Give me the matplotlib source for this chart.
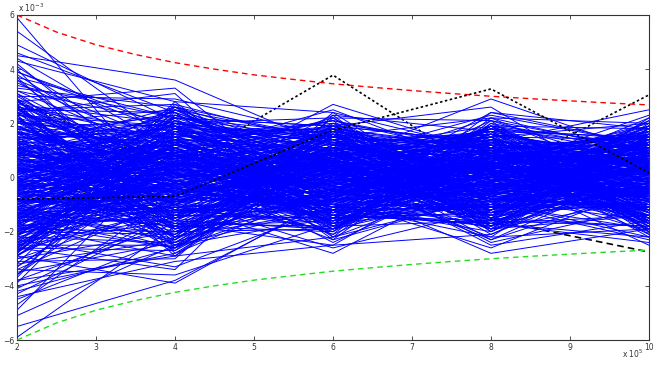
import matplotlib
matplotlib.use("Agg")
import matplotlib.pyplot as plt
import numpy as np

# x in units of 1e5, y in units of 1e-3
x_pts = [2, 4, 6, 8, 10]

# blue runs: value at each x_pts
blue_runs = [
    [5.9, -0.9, 0.4, -0.3, 0.6], [5.4, 1.2, -0.5, 0.8, -0.2], [4.9, 2.1, 0.9, -0.6, 0.3],
    [4.5, 3.6, 1.1, 0.2, -0.8], [4.3, 2.8, 2.4, 1.0, 0.5], [4.1, 0.3, -1.2, 0.7, 1.1],
    [3.9, 1.8, 0.6, 2.9, 0.9], [3.7, -1.5, 0.2, -0.4, -0.6], [3.4, 2.2, 1.9, 1.3, 2.5],
    [3.2, 0.8, -0.3, -1.1, 0.4], [3.0, 2.9, 1.5, 0.5, 1.6], [2.8, -0.4, 2.7, 0.9, -0.3],
    [2.6, 1.4, -0.8, 2.4, 1.2], [2.5, 0.1, 0.5, -0.2, 2.2], [2.3, 1.9, 1.3, 0.1, -1.4],
    [2.2, -1.1, -0.1, 1.6, 0.7], [2.1, 0.6, 2.2, -0.9, 0.0], [2.0, 2.5, 0.0, 0.6, 1.8],
    [1.9, -0.7, 1.0, 1.9, -0.5], [1.8, 1.1, -1.6, 0.3, 0.8], [1.7, 0.4, 0.7, -1.4, 1.4],
    [1.6, 1.6, 1.8, 1.1, -0.9], [1.5, -1.9, 0.3, 0.0, 0.2], [1.5, 0.9, -0.6, 2.1, 1.0],
    [1.4, 2.0, 1.4, -0.7, -1.1], [1.3, -0.2, -1.0, 0.8, 0.6], [1.3, 1.3, 0.8, 1.5, 2.0],
    [1.2, 0.0, 2.0, -0.1, -0.4], [1.1, -1.3, -0.4, 0.4, 1.3], [1.1, 1.7, 0.1, -1.7, 0.1],
    [1.0, 0.5, 1.6, 0.9, -1.7], [1.0, -0.6, -0.9, 1.2, 0.9], [0.9, 2.3, 0.4, -0.5, 0.3],
    [0.9, 0.2, -1.9, 0.6, -0.7], [0.8, -1.0, 1.2, 1.7, 1.5], [0.8, 1.0, -0.2, -0.3, -0.2],
    [0.7, -0.3, 0.6, 0.2, 0.7], [0.7, 1.5, -1.3, -1.0, 1.9], [0.6, -1.6, 0.9, 1.0, -0.1],
    [0.6, 0.7, 1.7, -0.8, -1.0], [0.5, -0.8, -0.7, 0.5, 1.1], [0.5, 1.2, 0.2, 1.4, -0.6],
    [0.4, -2.2, -0.5, -0.6, 0.4], [0.4, 0.3, 1.1, 0.7, -1.3], [0.3, 1.4, -1.5, -1.3, 0.8],
    [0.3, -0.5, 0.0, 1.8, 0.2], [0.2, 0.9, 2.5, 0.3, -0.8], [0.2, -1.2, -0.8, -0.2, 1.6],
    [0.1, 1.9, 0.5, -1.5, -0.3], [0.1, -0.1, -1.1, 0.8, 0.5], [0.0, 0.6, 1.4, 0.0, -1.5],
    [0.0, -1.4, 0.3, 2.2, 0.9], [-0.1, 1.1, -0.6, -0.9, 0.0], [-0.1, -0.9, 0.8, 0.4, -0.9],
    [-0.2, 0.4, -1.7, 1.1, 1.2], [-0.2, 2.1, 0.1, -0.4, -0.4], [-0.3, -1.7, 1.0, -1.2, 0.6],
    [-0.3, 0.0, -0.3, 0.6, 1.7], [-0.4, 1.3, 1.9, 0.2, -1.2], [-0.4, -0.4, -1.2, -1.8, 0.3],
    [-0.5, 0.8, 0.4, 1.3, -0.1], [-0.5, -2.0, -0.1, 0.1, 1.0], [-0.6, 0.2, 1.5, -0.6, -0.7],
    [-0.6, -1.1, -0.9, 0.9, 0.4], [-0.7, 1.6, 0.6, -0.1, -1.6], [-0.7, -0.2, -2.1, 0.5, 0.7],
    [-0.8, 0.5, 0.9, -1.0, 1.3], [-0.8, -1.5, 0.2, 1.6, -0.2], [-0.9, 1.0, -0.7, 0.0, 0.1],
    [-0.9, -0.6, 1.3, -0.5, -1.1], [-1.0, -2.4, -0.4, 0.7, 0.9], [-1.0, 0.7, -1.4, -1.6, -0.5],
    [-1.1, -0.3, 0.7, 1.0, 1.5], [-1.1, 1.8, -0.2, 0.3, -0.9], [-1.2, -1.0, 1.1, -0.8, 0.2],
    [-1.2, 0.1, -1.8, 1.2, -1.4], [-1.3, -1.8, 0.0, -0.3, 0.6], [-1.3, 0.9, 2.1, 0.8, -0.3],
    [-1.4, -0.7, -1.0, -2.0, 1.1], [-1.4, 1.2, 0.5, 0.4, 0.0], [-1.5, -2.6, -0.6, 0.9, -1.8],
    [-1.5, 0.3, 1.6, -1.1, 0.5], [-1.6, -1.2, -1.3, 0.2, 1.4], [-1.6, 1.5, 0.3, 1.5, -0.6],
    [-1.7, -0.1, -2.3, -0.7, -1.2], [-1.8, -2.9, 0.8, 0.1, 0.8], [-1.8, 0.6, -0.5, -1.4, -0.4],
    [-1.9, -1.4, 1.2, 1.1, 1.0], [-2.0, 0.2, -1.6, -0.2, -2.0], [-2.0, -2.1, 0.1, -2.3, 0.3],
    [-2.1, 1.0, -0.9, 0.5, -0.8], [-2.2, -0.8, -2.6, -1.2, 1.2], [-2.3, -3.3, -1.1, 0.6, -1.0],
    [-2.4, 0.0, 0.9, -0.9, -2.2], [-2.5, -1.6, -1.9, 1.4, 0.1], [-2.6, -2.7, 0.4, -1.9, -1.4],
    [-2.7, 0.8, -1.4, -0.1, 0.7], [-2.9, -3.9, -0.7, -1.3, -0.5], [-3.0, -1.0, -2.8, 0.2, -2.5],
    [-3.2, -2.3, 0.6, -2.4, -1.1], [-3.4, -3.6, -1.7, -0.6, 0.4], [-3.6, 0.5, -0.3, -2.8, -1.9],
    [-3.8, -2.9, -2.2, 0.0, -0.7], [-4.1, -1.3, -1.0, -1.7, -2.4], [-4.4, -3.1, -2.5, -2.1, 0.2],
    [-4.7, -0.6, 0.2, -0.8, -1.6], [-5.1, -2.5, -1.5, -1.0, -2.3], [-5.5, -3.8, -0.8, -2.6, -0.3],
    [-5.9, -1.8, -2.0, 0.8, -1.3],
    [0.35, -0.25, 0.45, -0.15, 0.25], [-0.45, 0.55, -0.35, 0.25, -0.45], [1.25, 0.45, 0.15, -0.55, 0.65],
    [-1.15, -0.35, 0.55, 0.35, -0.15], [0.65, 0.15, -0.65, 0.75, 0.05], [-0.25, -0.75, 0.35, -0.35, 0.85],
    [1.85, -0.15, 0.95, 0.45, -0.65], [-1.65, 0.35, -0.45, -0.65, 0.35], [0.15, 1.05, 0.25, 0.15, -0.25],
    [-0.85, -0.45, -0.15, 0.95, 0.55], [2.35, 0.65, -0.25, -0.25, 0.15], [-2.15, 0.25, 0.75, 0.05, -0.35],
    [0.95, -0.95, 0.05, 0.65, 1.05], [-0.05, 0.85, -0.85, -0.45, -0.75], [1.45, -0.55, 0.65, 1.25, 0.45],
    [-1.35, 1.25, -0.05, -0.75, 0.25], [0.45, 0.05, 1.25, 0.25, -0.05], [-0.55, -1.25, -0.55, 0.55, 0.75],
    [2.65, 0.35, 0.45, -0.05, -0.55], [-2.45, -0.15, 0.15, 0.35, 0.15], [0.75, 0.75, -0.35, -0.85, 0.35],
    [-0.65, 0.45, 0.85, 0.85, -0.45], [1.05, -0.35, -0.75, 0.15, 0.95], [-1.45, -0.65, 0.45, -0.25, -0.25],
    [0.25, 1.35, -0.15, 0.45, 0.55], [-0.35, -0.05, 1.05, -0.55, -0.85], [1.65, 0.25, 0.25, 0.75, 0.25],
    [-1.75, 0.95, -0.65, 0.05, 0.45], [0.55, -0.85, 0.65, -0.35, -0.15], [-0.15, 0.15, -0.25, 1.05, 0.65],
    [2.05, -1.05, 0.35, 0.25, -0.35], [-1.95, 0.55, -0.95, -0.15, 0.05], [0.85, 0.25, 0.05, 0.55, -0.65],
    [-0.95, -0.25, 0.65, -0.65, 0.35], [1.35, 0.65, -0.45, 0.35, 0.15], [-1.25, 0.05, 0.35, 0.15, -0.55],
    [0.05, -0.55, -0.05, -0.45, 0.45], [3.1, 0.15, 0.55, 0.65, -0.05], [-2.85, -0.35, -0.35, 0.35, 0.25],
    [3.6, -0.65, 0.15, -0.15, 0.55], [-3.3, 0.45, 0.25, -0.35, -0.45],
    [2.7, -1.9, 1.2, 0.4, -1.1], [-2.6, 1.4, -0.3, 1.6, 0.8], [1.3, 2.4, -1.5, -0.9, 1.3],
    [-0.4, -2.3, 1.7, -1.6, -0.2], [2.2, 0.7, 0.8, 1.7, -1.6], [-1.8, -1.2, -1.6, 0.6, 1.5],
    [0.8, 1.9, 1.3, -1.4, 0.6], [-2.9, 0.3, 0.1, 1.2, -1.3], [1.7, -2.5, -1.1, -0.2, 1.7],
    [-0.9, 2.2, 1.6, 0.9, -0.5], [2.9, -0.6, -1.4, -1.7, 0.9], [-1.4, 1.6, 0.5, 1.5, -1.7],
    [0.4, -1.7, -1.8, 0.2, 1.1], [-2.2, 2.6, 1.4, -1.1, -0.9], [1.9, -0.2, -0.6, 1.8, 1.4],
    [-0.6, -2.1, 1.9, -0.5, -1.5], [2.4, 1.1, -1.2, 0.7, 0.2], [-1.6, -0.9, 0.7, -1.8, 1.6],
    [0.1, 2.0, -0.9, 1.3, -1.2], [-2.4, -1.5, 1.5, -0.3, 0.7], [1.1, 0.9, -1.7, 1.0, -0.1],
    [-1.1, -2.6, 0.3, -1.3, 1.8], [2.6, 1.7, 1.8, 0.1, -1.4], [-0.2, -0.4, -1.3, 1.7, 0.5],
    [1.6, 2.3, 0.6, -1.5, -1.8], [-2.7, -1.1, -0.7, 0.8, 1.2], [0.6, 1.2, 1.1, -0.7, -0.6],
    [-1.9, -2.0, -1.9, 1.4, 0.3], [2.1, 0.4, 1.6, -1.9, 1.0], [-0.7, 2.5, -0.2, 0.5, -1.9],
    [1.4, -1.4, -1.5, 1.9, 0.8], [-2.3, 0.8, 1.0, -1.2, -0.3], [0.3, -2.2, -0.4, 0.0, 1.5],
    [-1.2, 1.8, 1.7, 1.1, -1.0], [2.8, -0.8, -1.0, -1.0, 0.4], [-0.5, 0.6, 0.9, 1.6, -1.6],
    [1.8, -1.8, -1.6, -0.4, 1.9], [-2.8, 2.1, 0.2, 0.3, -0.7], [0.9, -0.3, 1.4, -1.6, 1.1],
    [-1.5, 1.3, -1.1, 1.8, -0.4], [2.3, -2.4, 0.8, -0.8, -1.2], [-0.1, 0.5, -1.7, 0.9, 1.7],
    [1.2, 2.2, 1.9, -1.3, 0.0], [-2.1, -0.7, -0.5, 1.4, -1.5], [0.7, -1.6, 1.2, -0.1, 1.3],
    [-1.7, 2.4, -1.4, -1.7, 0.6], [2.5, 0.0, 0.4, 1.5, -0.8], [-0.8, -1.3, -0.8, -0.6, 1.8],
    [1.5, 1.5, 1.5, 1.2, -1.3], [-2.5, -2.5, 0.0, -1.4, 0.9], [0.2, 0.8, -1.9, 0.6, -1.8],
    [-1.3, -0.5, 1.8, -0.9, 1.4], [2.0, 1.9, -0.1, 1.9, -0.2], [-0.3, -1.9, -1.2, -1.1, -1.1],
    [1.0, 2.6, 0.9, 0.4, 1.6], [-2.0, -0.1, -1.5, 1.1, -0.6], [2.4, -1.0, 1.1, -1.8, 0.7],
    [-1.0, 1.0, -0.6, 0.7, -1.4], [0.5, -2.7, 1.6, -0.2, 1.2], [-2.6, 1.6, -1.8, 1.3, 0.1],
    [1.9, 1.0, -0.2, -1.0, -1.9], [-1.2, -1.8, 0.9, 1.6, 0.2], [0.3, 2.1, -1.4, -0.3, 1.4],
    [-2.5, -0.6, 1.3, 0.8, -0.9], [2.6, -2.0, -0.8, 1.4, 0.6], [-0.4, 1.5, 1.7, -1.7, -1.4],
    [1.1, -0.3, -1.6, 0.3, 1.9], [-1.9, 2.3, 0.4, -0.8, -0.2], [0.8, -1.5, 1.0, 1.7, -1.1],
    [-2.9, 0.9, -1.1, -1.2, 1.0], [2.2, -2.3, 1.8, 0.0, 0.3], [-0.6, 0.2, -0.4, 1.0, -1.7],
    [1.4, 1.8, 0.7, -1.5, 1.2], [-1.5, -1.1, -1.9, 0.5, -0.5], [0.0, 2.5, 1.4, -0.6, 1.6],
    [-2.2, -2.4, -0.6, 1.9, -1.3], [2.9, 0.5, 0.2, -1.4, 0.5], [-0.9, -0.8, 1.5, 1.2, -0.8],
    [1.6, 1.3, -1.3, -0.1, 1.7], [-1.7, -2.6, 0.6, -1.9, 0.0], [0.5, 0.1, -0.7, 1.5, -1.6],
    [-2.4, 1.7, 1.2, -0.4, 0.8], [2.1, -1.2, -1.7, 0.8, -0.4], [-0.2, 2.6, 0.1, -1.1, 1.3],
    [1.3, -0.5, 1.9, 1.3, -1.9], [-2.7, 0.6, -1.0, -0.5, 0.4], [0.9, -1.9, 0.5, 1.8, 1.1],
    [-1.0, 1.1, -1.5, -1.3, -1.0], [2.7, 2.0, 1.3, 0.2, 0.1], [-0.7, -1.4, -0.1, 1.1, -1.5],
    [1.8, 0.3, -1.1, -1.8, 1.5], [-2.0, -0.2, 1.6, 0.6, -0.7], [0.2, 2.2, -1.8, -0.7, 0.9],
    [-1.4, -2.1, 0.8, 1.4, -1.2], [2.3, 1.4, -0.5, -1.2, 1.8], [-0.5, -0.9, 1.1, 0.4, -0.1],
    [1.2, -2.2, -1.2, 1.6, 0.7], [-2.3, 1.2, 0.3, -1.6, -1.8], [0.6, 0.7, 1.7, 0.9, 1.0],
    [-1.6, -1.6, -0.9, -0.2, -0.6], [2.5, 2.4, 0.6, 1.7, 0.2], [-0.1, -0.1, -1.6, -1.0, 1.4],
    [1.7, -1.0, 1.4, 0.1, -1.3], [-2.8, 1.9, -0.3, 1.2, 0.6], [0.4, -2.5, 0.9, -1.4, -0.9],
    [-1.1, 0.4, -1.4, 0.7, 1.7], [2.0, 1.6, 1.0, -0.9, -0.3], [-0.8, -1.7, -0.8, 1.9, 1.2],
    [1.5, 0.8, 1.8, -0.3, -1.7], [-2.1, -0.4, -1.2, -1.5, 0.1], [0.1, 1.7, 0.2, 1.0, 1.6],
    [-1.3, -2.3, 1.6, -0.8, -1.1], [2.8, 0.1, -1.5, 0.5, 0.9], [-0.3, 2.0, 0.7, -1.9, -0.8],
    [1.0, -1.3, -0.2, 1.3, 1.3], [-2.6, 0.9, 1.9, -0.1, -1.4], [0.7, -0.7, -1.0, -1.1, 0.5],
    [-1.8, 2.2, 0.5, 1.8, -0.2], [2.4, -1.6, -1.9, -0.6, 1.9], [-0.9, 1.4, 1.3, 0.3, -1.6],
    [0.6, -0.8, 0.9, -0.7, 1.1], [-1.1, 1.2, -0.6, 0.9, -0.9], [1.7, 0.4, -1.1, -0.4, 0.6],
    [-0.2, -1.3, 1.2, 1.1, -0.4], [0.9, 1.6, 0.3, -1.2, 1.3], [-1.7, -0.2, -1.3, 0.2, -1.2],
    [2.2, -0.9, 0.6, 1.4, 0.1], [-0.6, 1.0, -0.2, -0.9, 1.5], [1.3, -1.6, 1.5, 0.5, -1.0],
    [-2.0, 0.6, -0.8, -1.4, 0.8], [0.2, 1.4, 1.0, 1.2, -1.3], [-1.3, -1.1, -1.4, -0.3, 0.3],
    [1.9, 0.0, 0.4, 0.8, 1.0], [-0.4, 1.8, -1.2, -1.1, -0.6], [1.1, -0.6, 1.3, 1.6, 0.7],
    [-1.9, 0.3, -0.1, -0.6, -1.4], [0.4, -1.4, -1.5, 0.4, 1.2], [-0.8, 1.1, 0.8, -1.6, -0.2],
    [2.4, 0.8, -0.4, 1.0, 0.4], [-1.5, -0.7, 1.6, -0.2, -0.7], [0.0, 1.3, -0.9, 1.5, 1.4],
    [-2.3, -1.0, 0.5, -1.0, -1.0], [1.5, 0.5, -1.6, 0.6, 0.9], [-0.1, -1.8, 1.1, -1.3, -0.1],
    [0.8, 0.9, -0.7, 0.1, -1.5], [-1.0, -0.3, 1.4, 1.3, 1.1], [2.0, 1.5, 0.0, -0.8, -0.5],
    [-0.7, -0.5, -1.0, 0.7, 1.6], [1.2, -1.2, 1.7, -1.5, -0.3], [-1.6, 1.7, -0.5, 0.0, 0.2],
    [0.3, -0.1, 0.7, 1.7, -1.1], [-2.1, 0.7, -1.7, -0.5, 1.3], [1.6, -0.4, 0.2, 0.9, -0.8],
    [-0.5, 2.0, 1.0, -1.2, 0.5], [0.7, -1.0, -1.3, 1.2, -1.6], [-1.4, 0.0, 0.6, -0.7, 1.0],
    [2.6, -1.5, -0.6, 0.3, 0.6], [-0.3, 0.8, 1.8, -1.8, -0.4], [1.0, 1.9, -1.4, 1.1, 1.5],
    [-1.8, -1.4, 0.1, 0.6, -1.2],
    [3.3, 2.6, -0.9, 0.6, -2.1], [-3.5, -2.4, 1.0, -1.1, 2.1], [4.2, -0.5, 2.3, -2.0, 0.4],
    [-3.9, 1.9, -2.3, 2.0, -0.6], [2.9, -2.8, 0.7, 2.3, 1.2], [-2.8, 2.7, -1.0, -2.2, -1.9],
    [3.6, 1.2, 2.1, 1.0, -2.2], [-4.3, -1.4, 1.7, 0.4, 2.0], [2.4, 3.1, -2.2, -0.7, 0.8],
    [-3.1, -3.0, 2.0, 1.2, -1.7], [3.8, 0.1, -2.0, 2.4, 1.8], [-3.7, 2.3, 0.9, -2.3, -0.4],
    [2.7, -2.2, 2.2, -1.5, 2.2], [-2.9, 1.5, -2.2, 2.1, -2.0], [4.6, 2.4, 0.3, 0.9, -1.2],
    [-4.0, -2.8, -0.4, -1.9, 1.7], [3.1, -1.2, 1.9, 2.6, -0.9], [-3.3, 0.6, -2.4, 0.3, 2.3],
    [2.5, 2.7, 1.2, -2.1, 0.5], [-2.6, -3.4, 2.3, 1.7, -2.0], [3.5, 0.9, -1.8, -1.6, 2.0],
    [-3.6, 2.0, 1.5, 2.2, -0.2], [4.0, -1.9, -0.6, 1.9, -1.8], [-4.9, 1.1, 2.1, -1.8, 1.4],
    [2.8, 3.3, -1.3, 0.6, 1.9], [-3.0, -2.0, 0.5, -2.5, -1.6], [3.9, 1.6, 2.0, -0.5, 2.1],
    [-3.4, -0.8, -2.0, 2.0, 0.9], [2.6, -2.6, 1.1, 1.5, -2.1], [-2.7, 2.8, -1.7, -1.0, 1.5],
    [3.2, 2.0, 2.2, 2.1, 0.3], [-3.8, -1.7, -2.5, 0.8, -1.9], [4.4, 1.0, 0.0, -2.2, 1.6],
    [-4.5, -2.2, 1.8, 1.0, -1.1], [3.0, -0.2, -2.1, 2.2, 2.0], [-3.2, 2.5, 0.8, -1.7, -2.2],
    [2.3, -2.9, 1.6, -2.0, 1.0], [-2.5, 1.3, -1.9, 1.9, 1.8], [3.7, 2.2, 1.4, 1.6, -1.7],
    [-4.2, -2.6, 2.4, -1.3, 0.6],
]

# the highlighted black runs
black_a = [-0.8, -0.7, 1.75, 3.27, 0.17]
black_b = [2.8, 0.4, 3.78, 0.05, 3.05]
black_c = [-0.25, -0.9, -0.5, -1.55, -2.75]

# envelope curves
env_x = [2, 2.5, 3, 3.5, 4, 4.5, 5, 5.5, 6, 6.5, 7, 7.5, 8, 8.5, 9, 9.5, 10]
env_upper = [6.0, 5.37, 4.90, 4.54, 4.24, 4.0, 3.79, 3.62, 3.46, 3.33, 3.21, 3.10, 3.0, 2.91, 2.83, 2.75, 2.68]
env_lower = [-6.0, -5.37, -4.90, -4.54, -4.24, -4.0, -3.79, -3.62, -3.46, -3.33, -3.21, -3.10, -3.0, -2.91, -2.83, -2.75, -2.68]

fig = plt.figure(figsize=(6.64, 3.66), dpi=100)
ax = fig.add_axes([17/664, 26/366, 632/664, 325/366])

# b and c sit under the blue bundle, a on top
ax.plot(x_pts, black_b, color='black', lw=1.2, ls=(0, (1.5, 1.5)), zorder=1)
ax.plot(x_pts, black_c, color='black', lw=1.2, ls=(0, (4, 2.5)), zorder=1)
for run in blue_runs:
    ax.plot(x_pts, run, color='#0000ff', lw=0.7, zorder=2)

ax.plot(env_x, env_upper, color='#ff0000', lw=1.0, ls=(0, (4, 3)), zorder=3)
ax.plot(env_x, env_lower, color='#22dd22', lw=1.0, ls=(0, (4, 3)), zorder=3)
ax.plot(x_pts, black_a, color='black', lw=1.2, ls=(0, (1.5, 1.5)), zorder=3)

ax.set_xlim(2, 10)
ax.set_ylim(-6, 6)
ax.set_xticks(range(2, 11))
ax.set_yticks(range(-6, 7, 2))
ax.tick_params(direction='in', length=3, width=0.6, labelsize=5.5, colors='#333333',
               top=True, right=True, pad=2)
for s in ax.spines.values():
    s.set_linewidth(0.8)
    s.set_color('#333333')

fig.text(18/664, 1 - 8/366, r'x 10$^{-3}$', fontsize=5.5, color='#333333', va='center')
fig.text(644/664, 1 - 354/366, r'x 10$^{5}$', fontsize=5.5, color='#333333', va='center', ha='right')

fig.savefig('out.png', dpi=100)
